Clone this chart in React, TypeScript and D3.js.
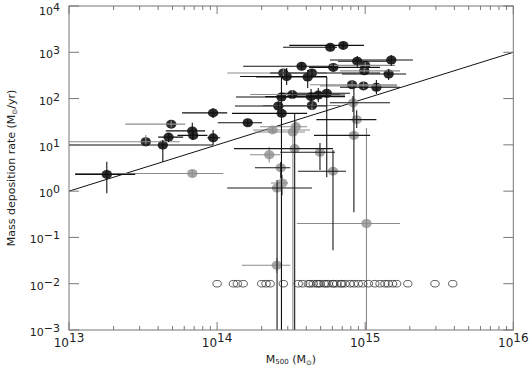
import React from "react";
import * as d3 from "d3";

// cluster mass M500 in units of 1e14 Msun, with lower/upper error ends,
// then mass deposition rate (Msun/yr) with lower/upper ends (0 = goes to zero)
type Pt = [number, number, number, number, number, number];

const blackSample: Pt[] = [
  [0.18, 0.11, 0.28, 2.3, 0.9, 4.3],
  [0.43, 0.08, 0.94, 9.9, 4.3, 12.7],
  [0.47, 0.4, 0.59, 14.7, 11.5, 18.0],
  [0.68, 0.45, 0.83, 20, 12.7, 30],
  [0.69, 0.54, 0.86, 16, 13.4, 19],
  [0.94, 0.58, 1.17, 49, 38, 62],
  [0.94, 0.86, 1.05, 14.2, 9.9, 21],
  [1.61, 1.01, 2.01, 30, 25.5, 36],
  [2.59, 1.32, 5.52, 69, 54, 88],
  [2.73, 1.26, 4.05, 48, 40, 56],
  [2.72, 1.34, 4.73, 108, 0, 290],
  [4.31, 2.11, 7.31, 110, 76, 161],
  [4.82, 3.12, 7.31, 119, 84, 169],
  [5.5, 2.67, 7.89, 130, 2.0, 292],
  [2.95, 1.43, 5.52, 300, 196, 456],
  [4.37, 2.28, 12.6, 356, 292, 434],
  [4.09, 1.83, 5.52, 292, 169, 413],
  [3.72, 1.5, 6.06, 500, 413, 615],
  [6.09, 4.17, 12.6, 472, 393, 557],
  [5.81, 2.79, 6.45, 1280, 1060, 1500],
  [7.11, 3.07, 9.81, 1410, 1170, 1660],
  [8.84, 6.55, 14.0, 640, 480, 830],
  [15.0, 5.78, 21.0, 680, 504, 871],
  [14.4, 6.97, 18.9, 339, 251, 434],
  [11.9, 6.76, 17.2, 176, 125, 251],
];

const blackSampleGreyErr: Pt[] = [
  [0.33, 0.08, 0.56, 11.7, 9.0, 16.3],
  [0.49, 0.24, 0.61, 28, 24, 33],
  [3.22, 1.67, 6.76, 122, 98, 153],
  [4.37, 2.04, 6.76, 71, 56, 88],
  [2.8, 1.17, 5.52, 356, 292, 434],
  [10.0, 5.78, 15.9, 522, 434, 615],
  [9.86, 6.76, 17.2, 397, 339, 480],
  [8.15, 4.24, 16.4, 199, 169, 239],
  [9.74, 4.95, 16.4, 188, 161, 227],
];

const greySample: Pt[] = [
  [0.68, 0.11, 1.1, 2.4, 2.0, 2.86],
  [2.25, 1.67, 2.67, 6.1, 4.15, 9.0],
  [2.37, 1.75, 4.24, 21, 18, 24],
  [3.4, 1.95, 4.05, 24.6, 18, 34],
  [3.25, 1.8, 3.92, 19, 0, 25.5],
  [2.76, 2.31, 3.01, 1.5, 0.82, 2.23],
  [10.2, 3.46, 17.2, 0.2, 0, 23],
  [2.53, 1.47, 3.12, 0.025, 0.017, 0.036],
];

const greySampleBlackErr: Pt[] = [
  [3.34, 1.3, 6.06, 8.3, 0, 49],
  [4.95, 2.67, 6.25, 6.9, 2.86, 10.9],
  [2.69, 1.8, 3.12, 3.2, 1.9, 4.25],
  [6.06, 3.52, 7.42, 2.7, 0.053, 7.7],
  [2.54, 1.17, 4.37, 1.17, 0, 1.74],
  [8.27, 5.78, 14.7, 81, 51, 113],
  [8.76, 4.68, 11.9, 35, 23, 56],
  [8.39, 4.51, 10.8, 16, 0.35, 169],
];

// non-detections, plotted at 0.01 Msun/yr
const nonDetectMass = [
  1.0, 1.29, 1.37, 1.5, 2.0, 2.14, 2.28, 2.8, 3.53, 3.78, 4.13, 4.24, 4.46,
  4.71, 4.82, 4.95, 5.27, 5.45, 5.63, 6.03, 6.13, 6.42, 6.83, 6.96, 7.31, 7.9,
  8.4, 8.98, 9.62, 10.5, 11.6, 12.6, 13.6, 14.3, 15.3, 16.3, 19.4, 29.6, 39.0,
];
const nonDetectRate = 0.01;

// reference relation, endpoints [mass (Msun), rate]
const relation: [number, number][] = [
  [1e13, 1],
  [1e16, 1000],
];

const xDecades = [13, 14, 15, 16];
const yDecades = [-3, -2, -1, 0, 1, 2, 3, 4];

const W = 531;
const H = 367;
const FONT = "DejaVu Sans";

const App = () => {
  const ref = React.useRef<SVGSVGElement>(null);

  React.useEffect(() => {
    const svg = d3.select(ref.current);
    svg.selectAll("*").remove();

    const left = 69,
      right = 513.3,
      top = 6,
      bottom = 330;
    const x = d3.scaleLog().domain([1e13, 1e16]).range([left, right]);
    const y = d3.scaleLog().domain([1e-3, 1e4]).range([bottom, top]);
    const xm = (m: number) => x(m * 1e14);
    const yr = (r: number) => y(r > 0 ? r : 1e-6);

    svg
      .append("defs")
      .append("clipPath")
      .attr("id", "plotclip")
      .append("rect")
      .attr("x", left)
      .attr("y", top)
      .attr("width", right - left)
      .attr("height", bottom - top);

    const plot = svg.append("g").attr("clip-path", "url(#plotclip)");

    // fitted relation
    plot
      .append("path")
      .attr("d", d3.line().x((d) => x(d[0])).y((d) => y(d[1]))(relation))
      .attr("stroke", "#111")
      .attr("stroke-width", 1)
      .attr("fill", "none");

    const drawPoints = (data: Pt[], fill: string) => {
      plot
        .append("g")
        .selectAll("ellipse")
        .data(data)
        .join("ellipse")
        .attr("cx", (d) => xm(d[0]))
        .attr("cy", (d) => yr(d[3]))
        .attr("rx", 5.2)
        .attr("ry", 4.5)
        .attr("fill", fill);
    };
    const drawBars = (data: Pt[], color: string) => {
      const g = plot.append("g").attr("stroke", color).attr("stroke-width", 1.1);
      g.selectAll("line.h")
        .data(data)
        .join("line")
        .attr("class", "h")
        .attr("x1", (d) => xm(d[1]))
        .attr("x2", (d) => xm(d[2]))
        .attr("y1", (d) => yr(d[3]))
        .attr("y2", (d) => yr(d[3]));
      g.selectAll("line.v")
        .data(data)
        .join("line")
        .attr("class", "v")
        .attr("x1", (d) => xm(d[0]))
        .attr("x2", (d) => xm(d[0]))
        .attr("y1", (d) => yr(d[4]))
        .attr("y2", (d) => yr(d[5]));
    };

    drawPoints(greySample, "#a6a6a6");
    drawPoints(greySampleBlackErr, "#a6a6a6");
    drawBars(greySample, "#8c8c8c");
    drawBars(greySampleBlackErr, "#1a1a1a");
    drawPoints(blackSample, "#2b2b2b");
    drawPoints(blackSampleGreyErr, "#2b2b2b");
    drawBars(blackSampleGreyErr, "#8c8c8c");
    drawBars(blackSample, "#111");

    plot
      .append("g")
      .selectAll("ellipse")
      .data(nonDetectMass)
      .join("ellipse")
      .attr("cx", (d) => xm(d))
      .attr("cy", y(nonDetectRate))
      .attr("rx", 4.2)
      .attr("ry", 3.3)
      .attr("fill", "none")
      .attr("stroke", "#333")
      .attr("stroke-width", 0.8);

    // frame
    svg
      .append("rect")
      .attr("x", left)
      .attr("y", top)
      .attr("width", right - left)
      .attr("height", bottom - top)
      .attr("fill", "none")
      .attr("stroke", "#777")
      .attr("stroke-width", 1);

    const axis = svg.append("g").attr("stroke", "#777").attr("stroke-width", 1);
    const minor: number[] = [];
    xDecades.slice(0, -1).forEach((e) => {
      for (let k = 2; k <= 9; k++) minor.push(k * Math.pow(10, e));
    });
    minor.forEach((v) => {
      axis.append("line").attr("x1", x(v)).attr("x2", x(v)).attr("y1", bottom).attr("y2", bottom - 4);
      axis.append("line").attr("x1", x(v)).attr("x2", x(v)).attr("y1", top).attr("y2", top + 4);
    });
    xDecades.forEach((e) => {
      const v = Math.pow(10, e);
      axis.append("line").attr("x1", x(v)).attr("x2", x(v)).attr("y1", bottom).attr("y2", bottom - 8);
      axis.append("line").attr("x1", x(v)).attr("x2", x(v)).attr("y1", top).attr("y2", top + 8);
    });
    yDecades.forEach((e) => {
      const v = Math.pow(10, e);
      axis.append("line").attr("x1", left).attr("x2", left + 10).attr("y1", y(v)).attr("y2", y(v));
      axis.append("line").attr("x1", right).attr("x2", right - 10).attr("y1", y(v)).attr("y2", y(v));
    });

    const labels = svg
      .append("g")
      .attr("font-family", FONT)
      .attr("font-size", 11)
      .attr("fill", "#222");

    const fmt = (e: number) => (e < 0 ? "\u2212" + Math.abs(e) : String(e));

    xDecades.forEach((e) => {
      const t = labels
        .append("text")
        .attr("x", x(Math.pow(10, e)))
        .attr("y", 347)
        .attr("font-size", 12)
        .attr("text-anchor", "middle");
      t.append("tspan").text("10");
      t.append("tspan").attr("dy", -5).text(fmt(e));
    });
    yDecades.forEach((e) => {
      const t = labels
        .append("text")
        .attr("x", 60)
        .attr("y", Math.max(y(Math.pow(10, e)) + 6, 15))
        .attr("text-anchor", "end");
      t.append("tspan").text("10");
      t.append("tspan").attr("dy", -4).text(fmt(e));
    });

    const yt = labels
      .append("text")
      .attr("transform", "translate(15,168) rotate(-90)")
      .attr("text-anchor", "middle");
    yt.append("tspan").text("Mass deposition rate (M");
    yt.append("tspan").attr("font-size", 7).attr("dy", 2).text("\u2299");
    yt.append("tspan").attr("dy", -2).text("/yr)");

    const xt = labels
      .append("text")
      .attr("x", 291)
      .attr("y", 363)
      .attr("text-anchor", "middle");
    xt.append("tspan").text("M");
    xt.append("tspan").attr("font-size", 7).attr("dy", 1).text("500");
    xt.append("tspan").attr("dy", -1).text("  (M");
    xt.append("tspan").attr("font-size", 7).attr("dy", 2).text("\u2299");
    xt.append("tspan").attr("dy", -2).text(")");
  }, []);

  return (
    <svg
      ref={ref}
      width={W}
      height={H}
      style={{ position: "absolute", left: 0, top: 0, background: "#fff" }}
    />
  );
};

export default App;
